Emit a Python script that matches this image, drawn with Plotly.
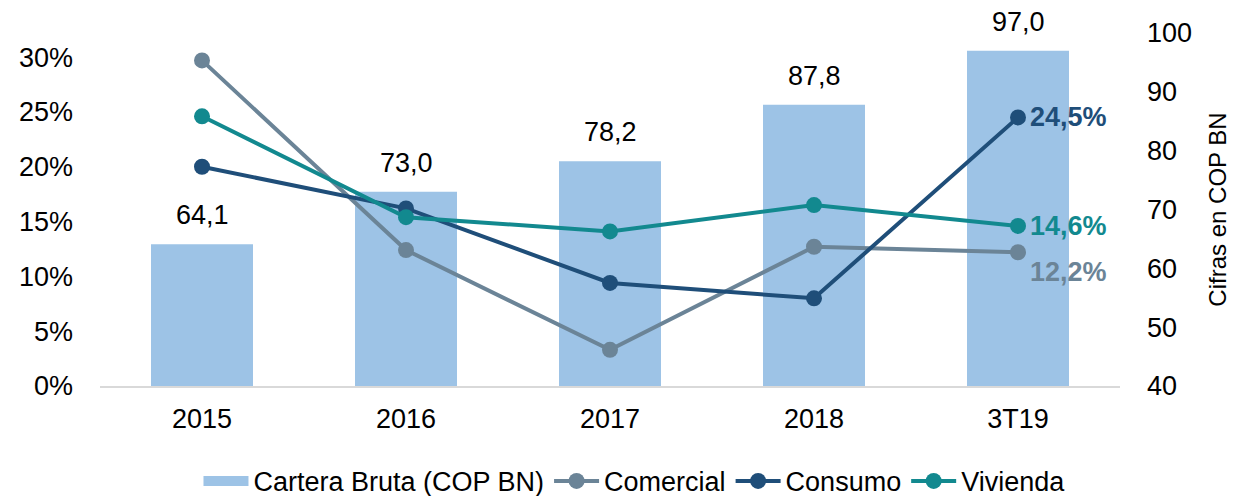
import plotly.graph_objects as go

categories = ["2015", "2016", "2017", "2018", "3T19"]
cartera = [64.1, 73.0, 78.2, 87.8, 97.0]
comercial = [29.7, 12.4, 3.3, 12.7, 12.2]
consumo = [20.0, 16.2, 9.4, 8.0, 24.5]
vivienda = [24.6, 15.4, 14.1, 16.5, 14.6]
left_ticks = [0, 5, 10, 15, 20, 25, 30]
left_labels = ["0%", "5%", "10%", "15%", "20%", "25%", "30%"]
right_ticks = [40, 50, 60, 70, 80, 90, 100]

C_BAR = "#9DC3E6"
C_COM = "#6B8497"
C_CON = "#1F4E79"
C_VIV = "#12898F"
FONT = "Liberation Sans, Arial, sans-serif"

xpos = list(range(len(categories)))

fig = go.Figure()
fig.add_trace(go.Bar(x=xpos, y=cartera, name="Cartera Bruta (COP BN)",
                     marker=dict(color=C_BAR, line=dict(width=0)), width=0.5,
                     yaxis="y", showlegend=False))
fig.add_trace(go.Scatter(x=[None], y=[None], name="Cartera Bruta (COP BN)", mode="lines",
                         line=dict(color=C_BAR, width=15), yaxis="y"))
for name, vals, col in [("Comercial", comercial, C_COM), ("Consumo", consumo, C_CON),
                        ("Vivienda", vivienda, C_VIV)]:
    fig.add_trace(go.Scatter(x=xpos, y=vals, name=name, mode="lines+markers",
                             line=dict(color=col, width=4),
                             marker=dict(color=col, size=16), yaxis="y2", cliponaxis=False))

ann = []
for i, v in zip(xpos, cartera):
    ann.append(dict(x=i, y=v, xref="x", yref="y", text=f"{v:.1f}".replace(".", ","),
                    showarrow=False, yanchor="bottom", yshift=12,
                    font=dict(size=27, color="#000000", family=FONT)))
for vals, col, ysh in [(consumo, C_CON, 0), (vivienda, C_VIV, 0), (comercial, C_COM, -20)]:
    v = vals[-1]
    ann.append(dict(x=xpos[-1], y=v, xref="x", yref="y2",
                    text=f"<b>{v:.1f}%</b>".replace(".", ","), showarrow=False,
                    xanchor="left", xshift=10, yshift=ysh,
                    font=dict(size=27, color=col, family=FONT)))

# the page adds an 8px body margin, so the figure is drawn 8px smaller
fig.update_layout(
    width=1228, height=488,
    margin=dict(l=92, r=116, t=25, b=110, autoexpand=False),
    plot_bgcolor="white", paper_bgcolor="white",
    font=dict(family=FONT, size=27, color="#000000"),
    showlegend=True,
    legend=dict(orientation="h", x=0.524, xanchor="center", yref="container",
                y=0.03, yanchor="middle", font=dict(size=27), tracegroupgap=0,
                itemwidth=45),
    xaxis=dict(range=[-0.5, 4.5], tickvals=xpos, ticktext=categories, showgrid=False,
               zeroline=False, showline=True, linecolor="#D9D9D9", automargin=False,
               linewidth=2, ticks="", tickfont=dict(size=27), ticklabelstandoff=8),
    yaxis=dict(side="right", range=[40, 100], tickvals=right_ticks, showgrid=False,
               zeroline=False, showline=False, ticks="", tickfont=dict(size=27),
               automargin=False, ticklabelstandoff=26,
               title=dict(text="Cifras en COP BN", font=dict(size=24), standoff=18)),
    yaxis2=dict(side="left", overlaying="y", range=[0, 32.2], tickvals=left_ticks,
                ticktext=left_labels, showgrid=False, zeroline=False, showline=False,
                automargin=False, ticklabelstandoff=26,
                ticks="", tickfont=dict(size=27)),
    annotations=ann,
)
fig.write_html("out.html")
